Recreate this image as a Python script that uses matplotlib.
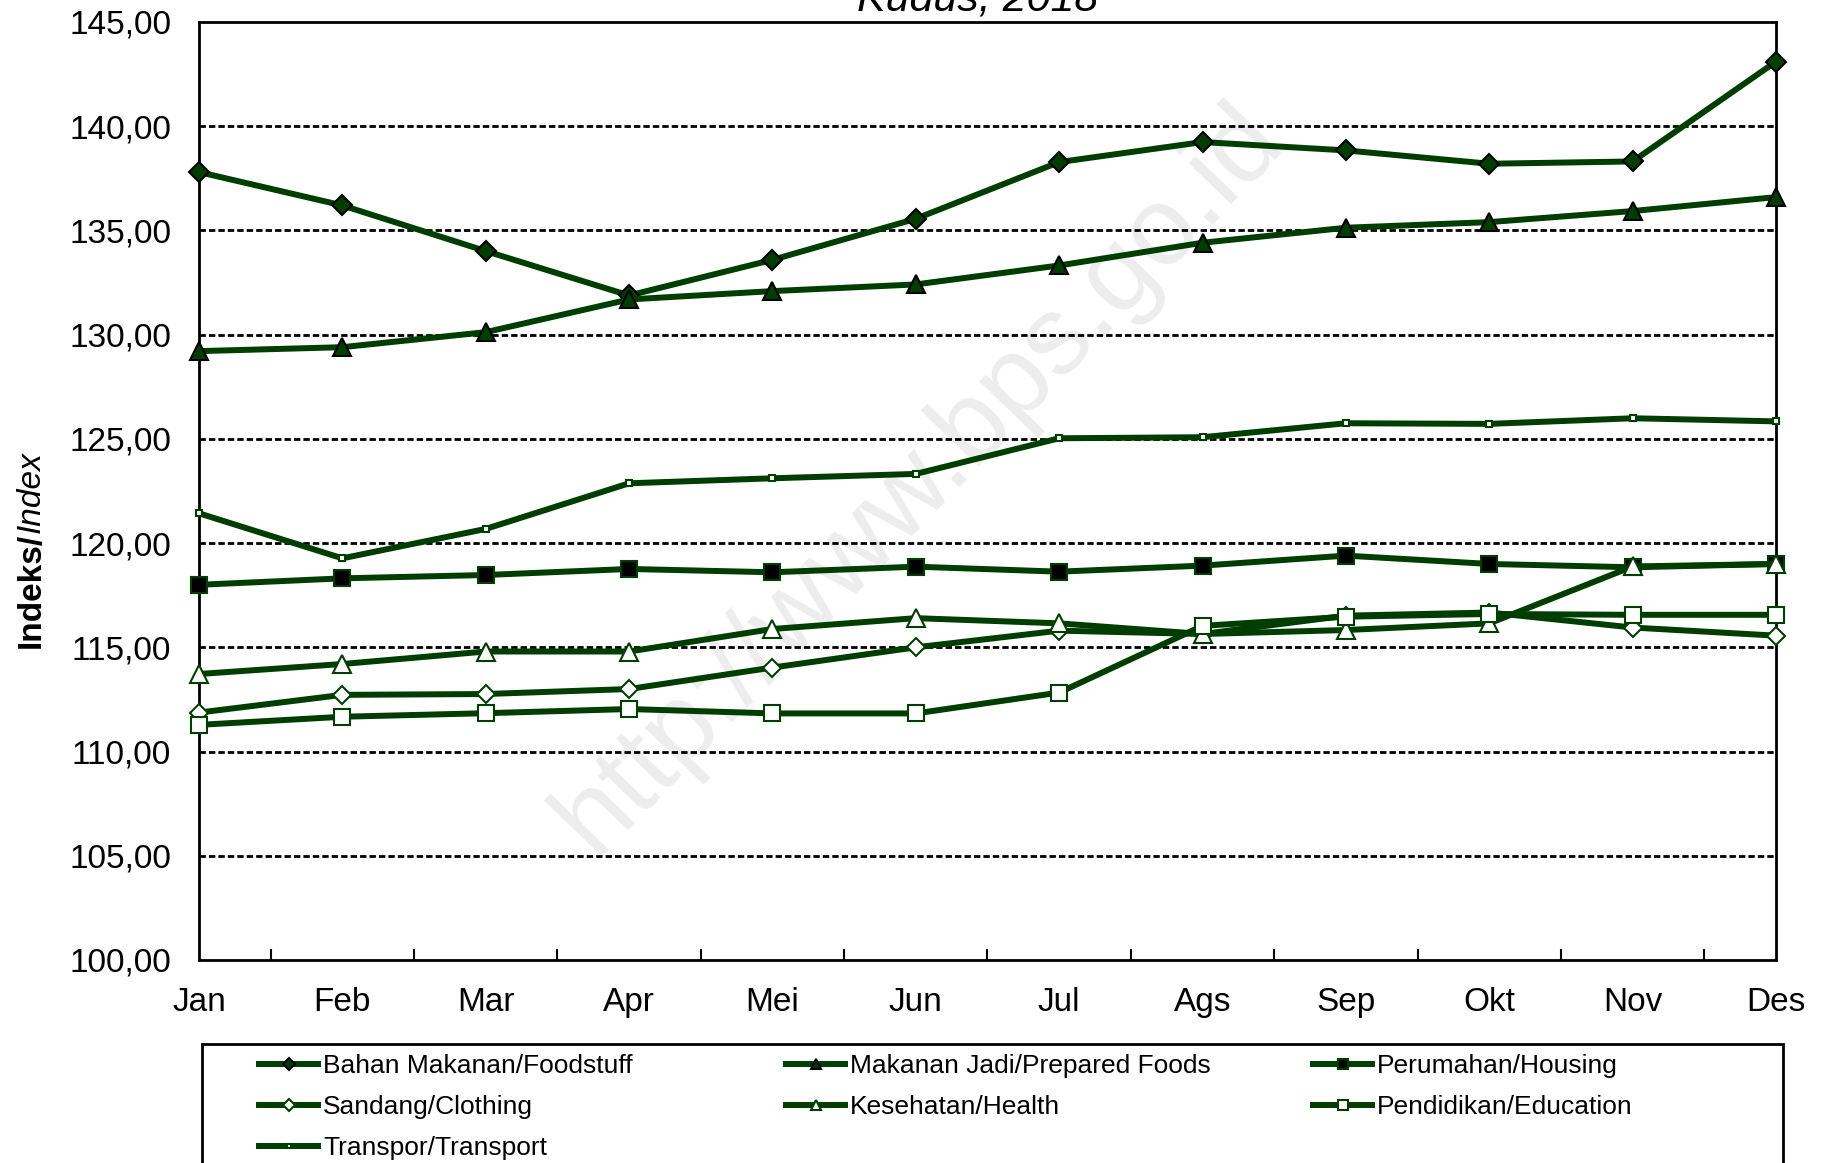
import numpy as np
import matplotlib
matplotlib.use('Agg')
import matplotlib.pyplot as plt
from matplotlib.patches import Rectangle

plt.rcParams['font.family'] = ['Liberation Sans', 'DejaVu Sans']

months = ['Jan', 'Feb', 'Mar', 'Apr', 'Mei', 'Jun', 'Jul', 'Ags', 'Sep', 'Okt', 'Nov', 'Des']

bahan_makanan = [137.80, 136.20, 134.01, 131.88, 133.59, 135.56, 138.28, 139.24, 138.84, 138.20, 138.31, 143.10]
makanan_jadi = [129.21, 129.40, 130.12, 131.69, 132.09, 132.41, 133.32, 134.41, 135.13, 135.40, 135.93, 136.60]
perumahan = [118.00, 118.31, 118.47, 118.76, 118.60, 118.87, 118.63, 118.92, 119.40, 119.00, 118.84, 119.00]
sandang = [111.87, 112.72, 112.76, 113.00, 114.03, 115.00, 115.80, 115.64, 116.52, 116.67, 115.95, 115.56]
kesehatan = [113.72, 114.20, 114.80, 114.80, 115.88, 116.40, 116.15, 115.64, 115.83, 116.15, 118.88, 119.00]
pendidikan = [111.28, 111.67, 111.84, 112.04, 111.83, 111.83, 112.83, 116.03, 116.47, 116.60, 116.56, 116.56]
transpor = [121.43, 119.27, 120.68, 122.87, 123.11, 123.32, 125.03, 125.08, 125.75, 125.72, 125.99, 125.84]

labels = ['Bahan Makanan/Foodstuff', 'Makanan Jadi/Prepared Foods', 'Perumahan/Housing',
          'Sandang/Clothing', 'Kesehatan/Health', 'Pendidikan/Education', 'Transpor/Transport']

green = '#003d00'

fig = plt.figure(figsize=(18.24, 11.63), dpi=100)
ax = fig.add_axes([199 / 1824, 1 - 960 / 1163, 1577 / 1824, 938 / 1163])

x = np.arange(len(months))

# (data, marker, size, face, edge)
series = [
    (bahan_makanan, 'D', 10, green, 'black'),
    (makanan_jadi, '^', 13, green, 'black'),
    (perumahan, 's', 12, 'black', green),
    (sandang, 'D', 9.5, 'white', green),
    (kesehatan, '^', 13, 'white', green),
    (pendidikan, 's', 12, 'white', green),
    (transpor, 's', 4, 'white', green),
]

lines = []
for i, (vals, mk, ms, fc, ec) in enumerate(series):
    l, = ax.plot(x, vals, color=green, lw=4.3, marker=mk, markersize=ms,
                 markerfacecolor=fc, markeredgecolor=ec, markeredgewidth=1.5,
                 label=labels[i], zorder=3 + i * 0.1, clip_on=False)
    lines.append(l)

ax.set_xlim(0, 11)
ax.set_ylim(100, 145)
yt = np.arange(100, 146, 5)
ax.set_yticks(yt)
ax.set_yticklabels([('%.2f' % v).replace('.', ',') for v in yt])
ax.set_xticks(x)
ax.set_xticklabels(months)
ax.set_xticks(x[:-1] + 0.5, minor=True)
ax.tick_params(axis='x', which='major', length=0, pad=19.5, labelsize=24)
ax.tick_params(axis='x', which='minor', direction='in', length=8, width=1.5)
ax.tick_params(axis='y', length=0, pad=20, labelsize=24)

for v in np.arange(105, 145, 5):
    ax.axhline(v, color='black', lw=2, ls=(0, (2.3, 1.1)), zorder=1)

for s in ax.spines.values():
    s.set_linewidth(2)

# watermark
ax.text(0.4566, 0.5128, 'http://www.bps.go.id', transform=ax.transAxes, rotation=46,
        fontsize=80, color='#ededed', ha='center', va='center', zorder=0.5)

# title (cut at top)
fig.text(978 / 1824, 1 - 10.5 / 1163, 'Kudus, 2018', style='italic', fontsize=31,
         ha='center', va='baseline')

# y label: bold + italic
t1 = fig.text(31 / 1824, 1 - 648 / 1163, 'Indeks/', rotation=90, fontweight='bold',
              fontsize=24, ha='center', va='bottom')
fig.canvas.draw()
bb = t1.get_window_extent()
fig.text(31 / 1824, bb.y1 / fig.bbox.height, 'Index', rotation=90, style='italic',
         fontsize=24, ha='center', va='bottom')

# legend, filled row by row like the original
cols = [[0, 3, 6], [1, 4], [2, 5]]
col_x = [246, 773, 1300]
for idx, cx in zip(cols, col_x):
    fig.legend(handles=[lines[i] for i in idx], labels=[labels[i] for i in idx],
               loc='upper left', bbox_to_anchor=(cx / 1824, 1 - 1041 / 1163),
               frameon=False, fontsize=19, borderpad=0, handlelength=2.23,
               handletextpad=0.2, labelspacing=0.64, markerscale=0.6)
fig.patches.append(Rectangle((202 / 1824, -0.05), (1783 - 202) / 1824, 1 - 1044 / 1163 + 0.05,
                             transform=fig.transFigure, fill=False, edgecolor='black', lw=2))

plt.savefig('out.png', dpi=100)
plt.close()
